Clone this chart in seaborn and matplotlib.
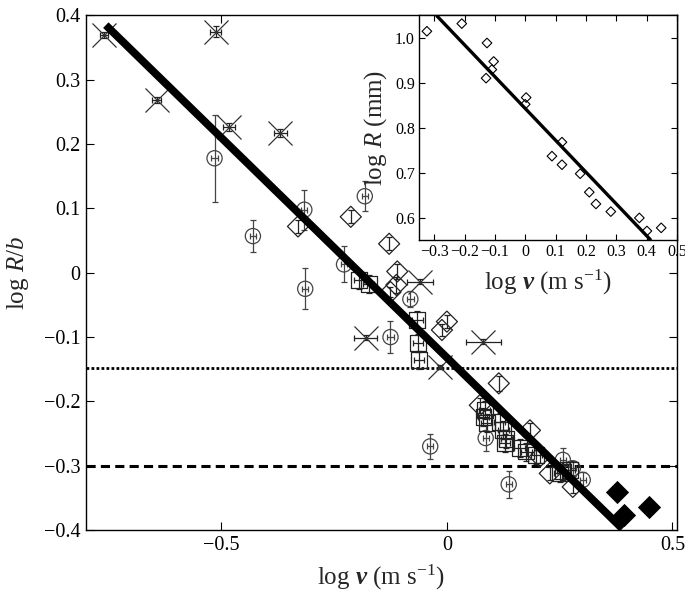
import numpy as np
import pandas as pd
import seaborn as sns
import matplotlib.pyplot as plt

# ---- main panel data (log v, log R/b) ----
cross_x = [-0.760, -0.643, -0.512, -0.483, -0.369, -0.180, -0.059, 0.081, -0.015]
cross_y = [0.370, 0.269, 0.375, 0.227, 0.217, -0.101, -0.014, -0.107, -0.146]
cross_xerr = [0.008, 0.010, 0.012, 0.014, 0.015, 0.026, 0.029, 0.038, 0.004]
cross_yerr = [0.005, 0.005, 0.008, 0.006, 0.006, 0.004, 0.004, 0.004, 0.003]

circ_x = [-0.515, -0.316, -0.430, -0.182, -0.314, -0.228, -0.125, -0.081, -0.037,
          0.086, 0.137, 0.257, 0.279, 0.301]
circ_y = [0.178, 0.098, 0.057, 0.119, -0.025, 0.013, -0.100, -0.041, -0.270,
          -0.257, -0.329, -0.291, -0.304, -0.322]
circ_yerr = [0.068, 0.031, 0.025, 0.023, 0.032, 0.028, 0.025, 0.012, 0.019,
             0.020, 0.021, 0.018, 0.012, 0.012]
circ_xerr = [0.007] * 14

sq_x = [-0.195, -0.173, -0.066, -0.064, -0.062, 0.084, 0.081, 0.088, 0.117, 0.125,
        0.132, 0.128, 0.161, 0.176, 0.198, 0.250, 0.257, 0.272]
sq_y = [-0.011, -0.017, -0.074, -0.109, -0.136, -0.214, -0.224, -0.234, -0.232, -0.245,
        -0.258, -0.265, -0.273, -0.278, -0.284, -0.312, -0.309, -0.307]
sq_xerr = [0.012] * 18
sq_yerr = [0.014] * 18

dia_x = [-0.330, -0.213, -0.128, -0.110, -0.112, -0.125, 0.000, -0.011, 0.115,
         0.073, 0.184, 0.206, 0.228, 0.279]
dia_y = [0.072, 0.087, 0.045, 0.002, -0.019, -0.030, -0.076, -0.089, -0.172,
         -0.206, -0.245, -0.286, -0.312, -0.333]
dia_yerr = [0.010, 0.010, 0.010, 0.012, 0.012, 0.008, 0.010, 0.010, 0.012,
            0.012, 0.012, 0.010, 0.010, 0.010]

fill_x = [0.377, 0.393, 0.448]
fill_y = [-0.341, -0.377, -0.364]

fit_x = [-0.756, 0.389]
fit_y = [0.385, -0.398]

dotted_level = -0.148
dashed_level = -0.300

# ---- inset data (log v, log R in mm) ----
ins_x = [-0.324, -0.209, -0.126, -0.104, -0.110, -0.129, 0.003, 0.000, 0.121, 0.088,
         0.121, 0.181, 0.211, 0.233, 0.282, 0.376, 0.401, 0.448]
ins_y = [1.015, 1.032, 0.989, 0.948, 0.930, 0.911, 0.868, 0.853, 0.769, 0.738,
         0.719, 0.699, 0.658, 0.632, 0.615, 0.601, 0.572, 0.579]
ins_fit_x = [-0.291, 0.412]
ins_fit_y = [1.049, 0.553]

main_xticks = [-0.5, 0, 0.5]
main_xlabels = ["\u22120.5", "0", "0.5"]
main_yticks = [0.4, 0.3, 0.2, 0.1, 0, -0.1, -0.2, -0.3, -0.4]
main_ylabels = ["0.4", "0.3", "0.2", "0.1", "0", "\u22120.1", "\u22120.2", "\u22120.3", "\u22120.4"]
ins_xticks = [-0.3, -0.2, -0.1, 0, 0.1, 0.2, 0.3, 0.4, 0.5]
ins_xlabels = ["\u22120.3", "\u22120.2", "\u22120.1", "0", "0.1", "0.2", "0.3", "0.4", "0.5"]
ins_yticks = [0.6, 0.7, 0.8, 0.9, 1.0]
ins_ylabels = ["0.6", "0.7", "0.8", "0.9", "1.0"]

sns.set_theme(style="ticks")
plt.rcParams["font.family"] = ["Liberation Serif", "DejaVu Serif"]
plt.rcParams["mathtext.fontset"] = "custom"
plt.rcParams["mathtext.rm"] = "Liberation Serif"
plt.rcParams["mathtext.it"] = "Liberation Serif:italic"
plt.rcParams["mathtext.bf"] = "Liberation Serif:bold:italic"

fig = plt.figure(figsize=(6.85, 5.91), dpi=100)
ax = fig.add_axes([0.1255, 0.1032, 0.8628, 0.8706])

ax.axhline(dotted_level, color="black", lw=2.0, ls=(0, (1, 0.8)), zorder=1)
ax.axhline(dashed_level, color="black", lw=2.2, ls=(0, (3, 1.7)), zorder=1)

ekw = dict(fmt="none", elinewidth=0.9, capsize=2.5, capthick=0.9)
ax.errorbar(cross_x, cross_y, xerr=cross_xerr, yerr=cross_yerr, ecolor="#222222", **ekw)
ax.errorbar(circ_x, circ_y, xerr=circ_xerr, yerr=circ_yerr, ecolor="#444444", **ekw)
ax.errorbar(sq_x, sq_y, xerr=sq_xerr, yerr=sq_yerr, ecolor="#222222", **ekw)
ax.errorbar(dia_x, dia_y, yerr=dia_yerr, ecolor="#222222", **ekw)

sns.scatterplot(x=cross_x, y=cross_y, marker="x", s=300, color="#333333",
                linewidth=0.9, ax=ax, zorder=3)
sns.scatterplot(x=circ_x, y=circ_y, marker="o", s=120, facecolor="none",
                edgecolor="#444444", linewidth=0.9, ax=ax, zorder=3)
sns.scatterplot(x=sq_x, y=sq_y, marker="s", s=130, facecolor="none",
                edgecolor="#222222", linewidth=0.9, ax=ax, zorder=3)
sns.scatterplot(x=dia_x, y=dia_y, marker="D", s=115, facecolor="none",
                edgecolor="#222222", linewidth=0.9, ax=ax, zorder=3)

fit = pd.DataFrame({"x": fit_x, "y": fit_y})
sns.lineplot(data=fit, x="x", y="y", color="black", lw=5.6, ax=ax, zorder=4,
             solid_capstyle="butt")
sns.scatterplot(x=fill_x, y=fill_y, marker="D", s=140, color="black",
                linewidth=0, ax=ax, zorder=5)

ax.set_xlim(-0.8, 0.51)
ax.set_ylim(-0.4, 0.4)
ax.set_xticks(main_xticks)
ax.set_xticklabels(main_xlabels)
ax.set_yticks(main_yticks)
ax.set_yticklabels(main_ylabels)
ax.tick_params(direction="in", top=True, right=True, length=6, width=0.8,
               labelsize=14.5, colors="black", pad=4)
for sp in ax.spines.values():
    sp.set_linewidth(1.0)
    sp.set_color("black")
ax.set_xlabel(r"log $\mathbf{v}$ (m s$^{-1}$)", fontsize=18)
ax.set_ylabel(r"log $R/b$", fontsize=18)
ax.xaxis.set_label_coords(0.5, -0.064)
ax.yaxis.set_label_coords(-0.093, 0.5)

# ---- inset ----
axi = fig.add_axes([0.6117, 0.5939, 0.3766, 0.3799])
axi.set_facecolor("white")
sns.scatterplot(x=ins_x, y=ins_y, marker="D", s=24, facecolor="none",
                edgecolor="black", linewidth=0.8, ax=axi, zorder=3)
ins_fit = pd.DataFrame({"x": ins_fit_x, "y": ins_fit_y})
sns.lineplot(data=ins_fit, x="x", y="y", color="black", lw=2.4, ax=axi, zorder=4)
axi.set_xlim(-0.35, 0.5)
axi.set_ylim(0.552, 1.05)
axi.set_xticks(ins_xticks)
axi.set_xticklabels(ins_xlabels)
axi.set_yticks(ins_yticks)
axi.set_yticklabels(ins_ylabels)
axi.tick_params(direction="in", top=True, right=True, length=4.5, width=0.8,
                labelsize=11.5, colors="black", pad=3)
for sp in axi.spines.values():
    sp.set_linewidth(1.0)
    sp.set_color("black")
axi.set_xlabel(r"log $\mathbf{v}$ (m s$^{-1}$)", fontsize=18)
axi.set_ylabel(r"log $R$ (mm)", fontsize=18)
axi.xaxis.set_label_coords(0.5, -0.125)
axi.yaxis.set_label_coords(-0.118, 0.5)

fig.savefig("out.png", dpi=100)
